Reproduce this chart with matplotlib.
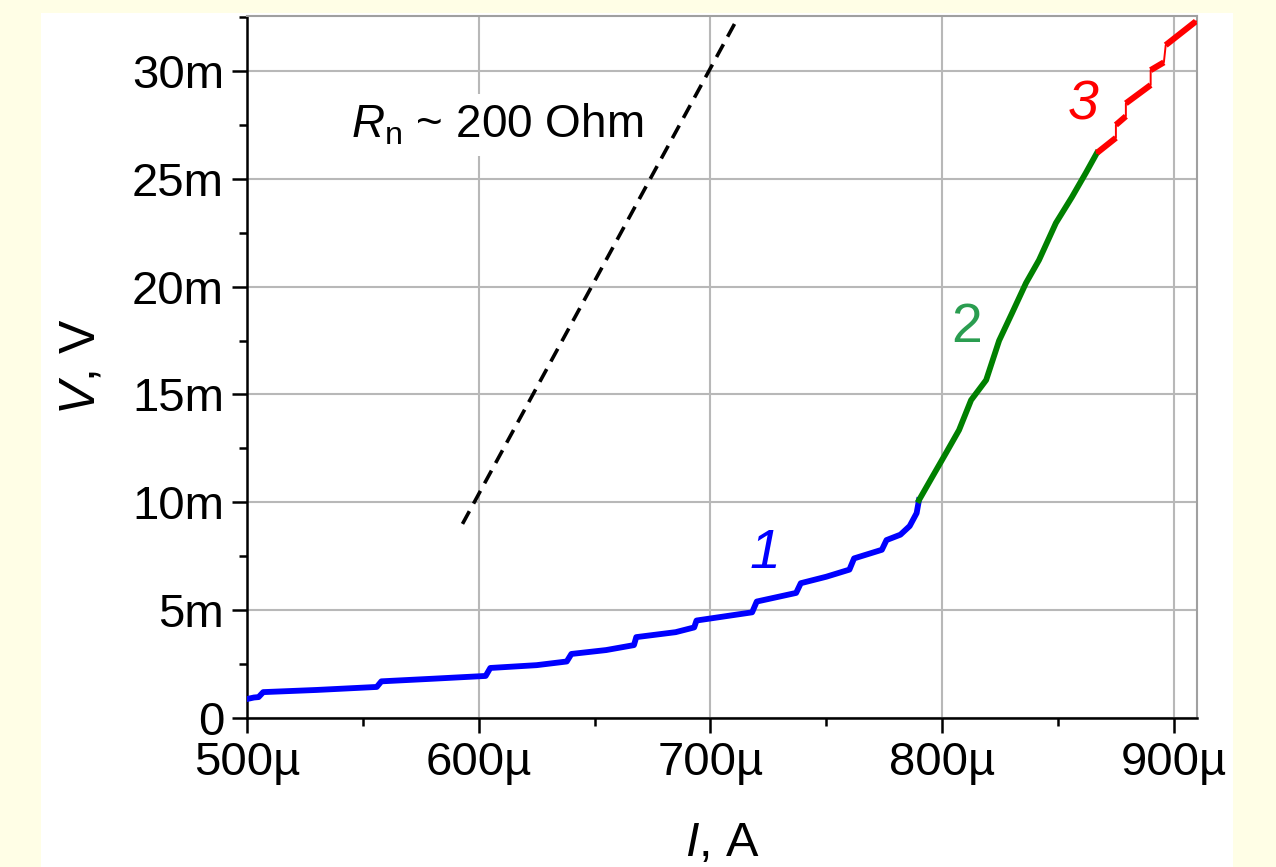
import matplotlib
matplotlib.use("Agg")
import matplotlib.pyplot as plt
import numpy as np
from matplotlib.ticker import EngFormatter, MultipleLocator
from matplotlib.patches import Rectangle

plt.rcParams["font.family"] = ["Liberation Sans", "DejaVu Sans"]
plt.rcParams["mathtext.fontset"] = "custom"
plt.rcParams["mathtext.rm"] = "Liberation Sans"
plt.rcParams["mathtext.it"] = "Liberation Sans:italic"

# branch 1 (blue), current in uA, voltage in mV
blue_I = [500, 503, 505, 507, 530, 556, 558, 580, 603, 605, 625, 638, 640, 655, 667, 668,
          685, 693, 694, 718, 720, 737, 739, 750, 760, 762, 774, 776, 782, 786, 789, 790]
blue_V = [0.88, 0.95, 0.97, 1.20, 1.30, 1.44, 1.70, 1.82, 1.95, 2.32, 2.45, 2.62, 2.97, 3.15, 3.38, 3.75,
          3.98, 4.20, 4.52, 4.90, 5.40, 5.80, 6.25, 6.55, 6.88, 7.40, 7.80, 8.25, 8.50, 8.90, 9.50, 10.1]

# branch 2 (green)
green_I = [790, 795.7, 801.7, 807.3, 812.5, 819, 824.6, 830.2, 836.2, 841.8, 849.1, 856, 862, 866.8]
green_V = [10.1, 11.17, 12.29, 13.35, 14.74, 15.67, 17.5, 18.78, 20.17, 21.23, 22.95, 24.15, 25.27, 26.2]

# branch 3 (red), flat pieces joined by jumps
red_I = [866.8, 875, 875, 879.3, 879.3, 890, 890, 895.7, 896.5, 909.5]
red_V = [26.2, 26.9, 27.5, 27.9, 28.5, 29.35, 30.04, 30.4, 31.2, 32.3]

# R_n ~ 200 Ohm guide line
rn_I = [593, 711]
rn_V = [9.0, 32.3]

uA = 1e-6
mV = 1e-3

fig = plt.figure(figsize=(12.76, 8.67), dpi=100)
fig.patch.set_facecolor("#fffee6")
panel = Rectangle((41 / 1276, 0), (1233 - 41) / 1276, 1 - 13 / 867,
                  transform=fig.transFigure, facecolor="white",
                  edgecolor="none", zorder=-10)
fig.add_artist(panel)

ax = fig.add_axes([247 / 1276, 1 - 718 / 867, (1197 - 247) / 1276, (718 - 16) / 867])
ax.set_facecolor("white")

ax.plot(np.array(blue_I) * uA, np.array(blue_V) * mV, color="#0000ff", lw=4.2, zorder=3)
ax.plot(np.array(green_I) * uA, np.array(green_V) * mV, color="#008000", lw=4.2, zorder=3)
rI = np.array(red_I) * uA
rV = np.array(red_V) * mV
ax.plot(rI, rV, color="#ff0000", lw=1.4, zorder=3)
for k in range(0, len(rI), 2):
    ax.plot(rI[k:k + 2], rV[k:k + 2], color="#ff0000", lw=4.4, zorder=3,
            solid_capstyle="butt")
ax.plot(np.array(rn_I) * uA, np.array(rn_V) * mV, color="black", lw=2.6,
        dashes=(4, 2.4), zorder=3)

ax.text(545 * uA, 27.5 * mV, r"$\mathit{R}_\mathrm{n}$ ~ 200 Ohm", fontsize=33,
        va="center", ha="left", zorder=2,
        bbox=dict(facecolor="white", edgecolor="none", pad=6))
ax.text(723.5 * uA, 7.6 * mV, "1", color="#0000ff", fontsize=40, style="italic",
        ha="center", va="center")
ax.text(810.5 * uA, 18.1 * mV, "2", color="#2a9d50", fontsize=40,
        ha="center", va="center")
ax.text(861 * uA, 28.4 * mV, "3", color="#ff0000", fontsize=40, style="italic",
        ha="center", va="center")

ax.set_xlim(500 * uA, 910 * uA)
ax.set_ylim(0, 32.55 * mV)
ax.xaxis.set_major_locator(MultipleLocator(100 * uA))
ax.xaxis.set_minor_locator(MultipleLocator(50 * uA))
ax.yaxis.set_major_locator(MultipleLocator(5 * mV))
ax.yaxis.set_minor_locator(MultipleLocator(2.5 * mV))
ax.xaxis.set_major_formatter(EngFormatter(sep=""))
ax.yaxis.set_major_formatter(EngFormatter(sep=""))

ax.grid(True, which="major", color="#b8b8b8", lw=1.5, zorder=0)
ax.set_axisbelow(True)
for s in ["left", "bottom"]:
    ax.spines[s].set_color("black")
    ax.spines[s].set_linewidth(1.8)
for s in ["top", "right"]:
    ax.spines[s].set_color("#a0a0a0")
    ax.spines[s].set_linewidth(1.5)

ax.tick_params(which="major", direction="out", length=10.5, width=1.8,
               labelsize=34, pad=6)
ax.tick_params(which="minor", direction="out", length=6, width=1.8)

ax.set_xlabel(r"$\mathit{I}$, A", fontsize=35, labelpad=26)
ax.set_ylabel(r"$\mathit{V}$, V", fontsize=36, labelpad=20)

fig.savefig("out.png", dpi=100, facecolor=fig.get_facecolor())
